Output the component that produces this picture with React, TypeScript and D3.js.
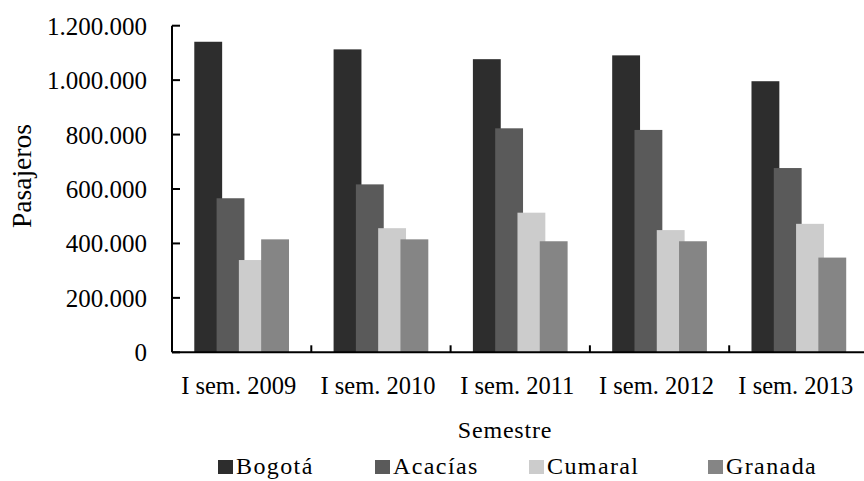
import React from "react";
import * as d3 from "d3";

const categories = ["I sem. 2009", "I sem. 2010", "I sem. 2011", "I sem. 2012", "I sem. 2013"];
const seriesNames = ["Bogotá", "Acacías", "Cumaral", "Granada"];
const bogota = [1141000, 1113000, 1077000, 1091000, 996000];
const acacias = [566000, 617000, 823000, 817000, 677000];
const cumaral = [339000, 456000, 513000, 449000, 472000];
const granada = [415000, 415000, 408000, 408000, 348000];
const seriesValues = [bogota, acacias, cumaral, granada];
const seriesColors = ["#2d2d2d", "#5a5a5a", "#cccccc", "#858585"];
const yTicks = [0, 200000, 400000, 600000, 800000, 1000000, 1200000];

const W = 864;
const H = 481;
const left = 172;
const right = 868.5;
const top = 25.7;
const bottom = 352.3;
const font = "'Liberation Serif', 'Times New Roman', serif";

const locale = d3.formatLocale({ decimal: ",", thousands: ".", grouping: [3], currency: ["$", ""] });
const fmt = locale.format(",");

export default function App() {
  const x = d3.scaleBand<string>().domain(categories).range([left, right]).paddingInner(0).paddingOuter(0);
  const y = d3.scaleLinear().domain([0, 1200000]).range([bottom, top]);
  const bw = x.bandwidth() * 0.2;
  const step = bw * 0.8;
  const groupW = step * (seriesNames.length - 1) + bw;

  const legendTextX = [236, 393, 547, 726];

  return (
    <svg width={W} height={H} style={{ position: "absolute", left: 0, top: 0, background: "#fff" }}>
      <rect x={0} y={0} width={W} height={H} fill="#fff" />
      {seriesValues.map((vals, si) =>
        vals.map((v, ci) => {
          const cx = (x(categories[ci]) as number) + x.bandwidth() / 2;
          const bx = cx - groupW / 2 + si * step;
          return (
            <rect
              key={`${si}-${ci}`}
              x={bx}
              y={y(v)}
              width={bw}
              height={bottom - y(v)}
              fill={seriesColors[si]}
            />
          );
        })
      )}
      {/* y axis */}
      <line x1={left} x2={left} y1={top} y2={bottom} stroke="#000" strokeWidth={2} />
      {yTicks.map((t) => (
        <g key={t}>
          <line x1={left} x2={left + 8} y1={y(t)} y2={y(t)} stroke="#000" strokeWidth={2} />
          <text x={147} y={y(t)} dy="0.36em" textAnchor="end" fontFamily={font} fontSize={25} fill="#000">
            {fmt(t)}
          </text>
        </g>
      ))}
      {/* x axis */}
      <line x1={left} x2={right} y1={bottom} y2={bottom} stroke="#000" strokeWidth={2} />
      {categories.map((c, i) => (
        <g key={c}>
          {i > 0 && (
            <line x1={x(c) as number} x2={x(c) as number} y1={bottom} y2={bottom - 7} stroke="#000" strokeWidth={2} />
          )}
          <text
            x={(x(c) as number) + x.bandwidth() / 2 - 3}
            y={394}
            textAnchor="middle"
            fontFamily={font}
            fontSize={24.5}
            fill="#000"
          >
            {c}
          </text>
        </g>
      ))}
      <text x={505} y={438} textAnchor="middle" fontFamily={font} fontSize={24} fill="#000" letterSpacing={0.8}>
        Semestre
      </text>
      <text
        transform={`translate(31,${176}) rotate(-90)`}
        textAnchor="middle"
        fontFamily={font}
        fontSize={27.5}
        fill="#000"
      >
        Pasajeros
      </text>
      {seriesNames.map((n, i) => (
        <g key={n}>
          <rect x={legendTextX[i] - 18} y={460} width={15} height={14} fill={seriesColors[i]} />
          <text x={legendTextX[i]} y={474} fontFamily={font} fontSize={24} letterSpacing={1.4} fill="#000">
            {n}
          </text>
        </g>
      ))}
    </svg>
  );
}
